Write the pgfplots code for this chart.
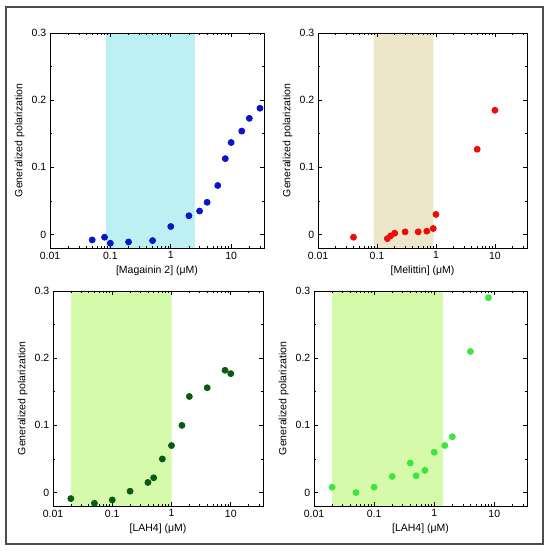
\documentclass[border=0pt]{standalone}
\usepackage{fontspec}
\setmainfont{Liberation Sans}
\usepackage{pgfplots}
\pgfplotsset{compat=1.18}
\definecolor{shcyan}{HTML}{BDF0F3}
\definecolor{shtan}{HTML}{EEE6C8}
\definecolor{shgreen}{HTML}{D5FAAA}
\definecolor{mblue}{HTML}{0A14C8}
\definecolor{mred}{HTML}{F00A0A}
\definecolor{mdgreen}{HTML}{0B5A14}
\definecolor{mlgreen}{HTML}{3CE63C}
\pgfplotsset{every axis/.append style={
    scale only axis, axis on top,
    tick align=inside, major tick length=4pt, minor tick length=2pt,
    every tick/.style={black, line width=0.6pt},
    line width=0.8pt,
    xticklabel style={font=\fontsize{10.5}{12}\selectfont},
    yticklabel style={font=\fontsize{10.5}{12}\selectfont},
    ylabel style={font=\fontsize{10.5}{12}\selectfont},
    xlabel style={font=\fontsize{10.5}{12}\selectfont},
    ymin=-0.02, ymax=0.3,
    ytick={0,0.1,0.2,0.3}, yticklabels={0,0.1,0.2,0.3},
    minor ytick={0.05,0.15,0.25},
}}
\begin{document}
\begin{tikzpicture}
% panel 1
\begin{axis}[at={(50pt,303pt)}, anchor=south west, width=214pt, height=215pt,
    xmode=log, xmin=0.01, xmax=35,
    xtick={0.01,0.1,1,10}, xticklabels={0.01,0.1,1,10},
    minor xtick={0.02,0.03,0.04,0.05,0.06,0.07,0.08,0.09,0.2,0.3,0.4,0.5,0.6,0.7,0.8,0.9,2,3,4,5,6,7,8,9,20,30},
    ylabel={Generalized polarization},
    xlabel={{[Magainin 2] (μM)}}]
\addplot[fill=shcyan, draw=none] coordinates {(0.085,-0.02) (0.085,0.3) (2.5,0.3) (2.5,-0.02) (0.085,-0.02)};
\addplot[only marks, mark=*, mark size=3pt, mark options={fill=mblue, draw=mblue}] coordinates {
(0.05,-0.008) (0.08,-0.004) (0.1,-0.013) (0.2,-0.011) (0.5,-0.009) (1,0.012) (2,0.028) (3,0.035) (4,0.048) (6,0.073) (8,0.113) (10,0.137) (15,0.154) (20,0.173) (30,0.188)};
\end{axis}
% panel 2
\begin{axis}[at={(318pt,303pt)}, anchor=south west, width=209pt, height=215pt,
    xmode=log, xmin=0.01, xmax=35,
    xtick={0.01,0.1,1,10}, xticklabels={0.01,0.1,1,10},
    minor xtick={0.02,0.03,0.04,0.05,0.06,0.07,0.08,0.09,0.2,0.3,0.4,0.5,0.6,0.7,0.8,0.9,2,3,4,5,6,7,8,9,20,30},
    ylabel={Generalized polarization},
    xlabel={{[Melittin] (μM)}}]
\addplot[fill=shtan, draw=none] coordinates {(0.088,-0.02) (0.088,0.3) (0.9,0.3) (0.9,-0.02) (0.088,-0.02)};
\addplot[only marks, mark=*, mark size=3pt, mark options={fill=mred, draw=mred}] coordinates {
(0.04,-0.004) (0.15,-0.006) (0.17,-0.002) (0.2,0.002) (0.3,0.004) (0.5,0.004) (0.7,0.005) (0.9,0.009) (1,0.03) (5,0.127) (10,0.185)};
\end{axis}
% panel 3
\begin{axis}[at={(53pt,45pt)}, anchor=south west, width=210pt, height=215pt,
    xmode=log, xmin=0.01, xmax=35,
    xtick={0.01,0.1,1,10}, xticklabels={0.01,0.1,1,10},
    minor xtick={0.02,0.03,0.04,0.05,0.06,0.07,0.08,0.09,0.2,0.3,0.4,0.5,0.6,0.7,0.8,0.9,2,3,4,5,6,7,8,9,20,30},
    ylabel={Generalized polarization},
    xlabel={{[LAH4] (μM)}}]
\addplot[fill=shgreen, draw=none] coordinates {(0.02,-0.02) (0.02,0.3) (1,0.3) (1,-0.02) (0.02,-0.02)};
\addplot[only marks, mark=*, mark size=3pt, mark options={fill=mdgreen, draw=mdgreen}] coordinates {
(0.02,-0.009) (0.05,-0.016) (0.1,-0.011) (0.2,0.002) (0.4,0.015) (0.5,0.022) (0.7,0.05) (1,0.07) (1.5,0.1) (2,0.143) (4,0.156) (8,0.182) (10,0.177)};
\end{axis}
% panel 4
\begin{axis}[at={(314pt,45pt)}, anchor=south west, width=213pt, height=215pt,
    xmode=log, xmin=0.01, xmax=35,
    xtick={0.01,0.1,1,10}, xticklabels={0.01,0.1,1,10},
    minor xtick={0.02,0.03,0.04,0.05,0.06,0.07,0.08,0.09,0.2,0.3,0.4,0.5,0.6,0.7,0.8,0.9,2,3,4,5,6,7,8,9,20,30},
    ylabel={Generalized polarization},
    xlabel={{[LAH4] (μM)}}]
\addplot[fill=shgreen, draw=none] coordinates {(0.02,-0.02) (0.02,0.3) (1.4,0.3) (1.4,-0.02) (0.02,-0.02)};
\addplot[only marks, mark=*, mark size=3pt, mark options={fill=mlgreen, draw=mlgreen}] coordinates {
(0.02,0.008) (0.05,0) (0.1,0.008) (0.2,0.024) (0.4,0.044) (0.5,0.025) (0.7,0.033) (1,0.06) (1.5,0.07) (2,0.083) (4,0.21) (8,0.29)};
\end{axis}
\draw[line width=1.2pt, black!70] (6pt,7pt) rectangle (543pt,544pt);
\pgfresetboundingbox
\path (0pt,0pt) rectangle (550pt,551pt);
\end{tikzpicture}
\end{document}
